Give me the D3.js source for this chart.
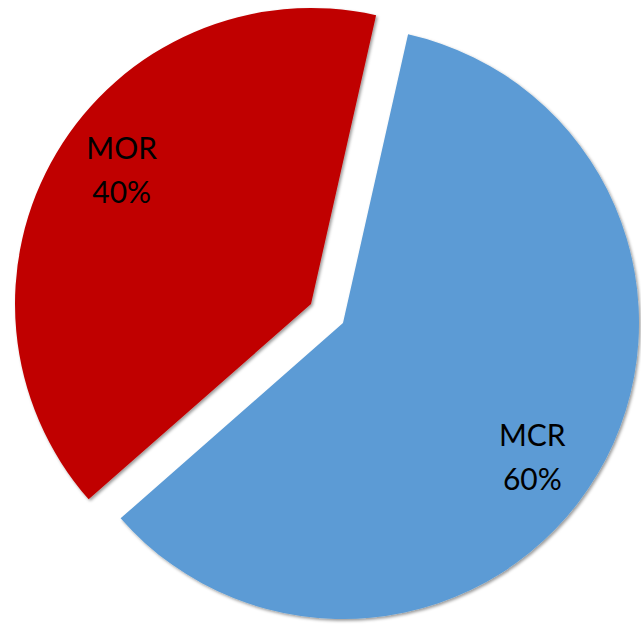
<!DOCTYPE html>
<html>
<head>
<meta charset="utf-8">
<script src="https://cdn.jsdelivr.net/npm/d3@7/dist/d3.min.js"></script>
<style>
  html, body { margin: 0; padding: 0; background: #ffffff; }
  svg { display: block; }
</style>
</head>
<body>
<svg id="chart" width="641" height="625"></svg>
<script>
// Data
const categories = ["MCR", "MOR"];
const values = [60, 40];
const percentLabels = ["60%", "40%"];
const colors = ["#5B9BD5", "#C00000"];

const W = 641, H = 625;
const cx = 327, cy = 313.5;
const radius = 296;
const explode = 18.6;
const startAngle = 12.7 * Math.PI / 180;
const labelDist = 232;
const labelAngleOffset = 4.6 * Math.PI / 180;

const svg = d3.select("#chart");

const defs = svg.append("defs");
const f = defs.append("filter").attr("id", "shadow")
  .attr("x", "-10%").attr("y", "-10%").attr("width", "120%").attr("height", "120%");
f.append("feDropShadow")
  .attr("dx", 1.6).attr("dy", 1.8).attr("stdDeviation", 1.6)
  .attr("flood-color", "#000").attr("flood-opacity", 0.4);

const pie = d3.pie().sort(null).value(d => d.value)
  .startAngle(startAngle).endAngle(startAngle + 2 * Math.PI);

const data = categories.map((c, i) => ({ cat: c, value: values[i], pct: percentLabels[i], color: colors[i] }));
const arcs = pie(data);

const arc = d3.arc().innerRadius(0).outerRadius(radius);

const g = svg.append("g").attr("transform", `translate(${cx},${cy})`);

const slices = g.selectAll("g.slice").data(arcs).enter().append("g")
  .attr("class", "slice")
  .attr("transform", d => {
    const a = (d.startAngle + d.endAngle) / 2;
    return `translate(${Math.sin(a) * explode},${-Math.cos(a) * explode})`;
  });

slices.append("path")
  .attr("d", arc)
  .attr("fill", d => d.data.color)
  .attr("filter", "url(#shadow)");

slices.each(function(d) {
  const a = (d.startAngle + d.endAngle) / 2 + labelAngleOffset;
  const x = Math.sin(a) * labelDist;
  const y = -Math.cos(a) * labelDist;
  const t = d3.select(this).append("text")
    .attr("text-anchor", "middle")
    .attr("font-family", "Lato, 'Open Sans', sans-serif")
    .attr("font-size", 30)
    .attr("fill", "#000");
  t.append("tspan").attr("x", x).attr("y", y - 11).text(d.data.cat);
  t.append("tspan").attr("x", x).attr("y", y + 33).text(d.data.pct);
});
</script>
</body>
</html>
